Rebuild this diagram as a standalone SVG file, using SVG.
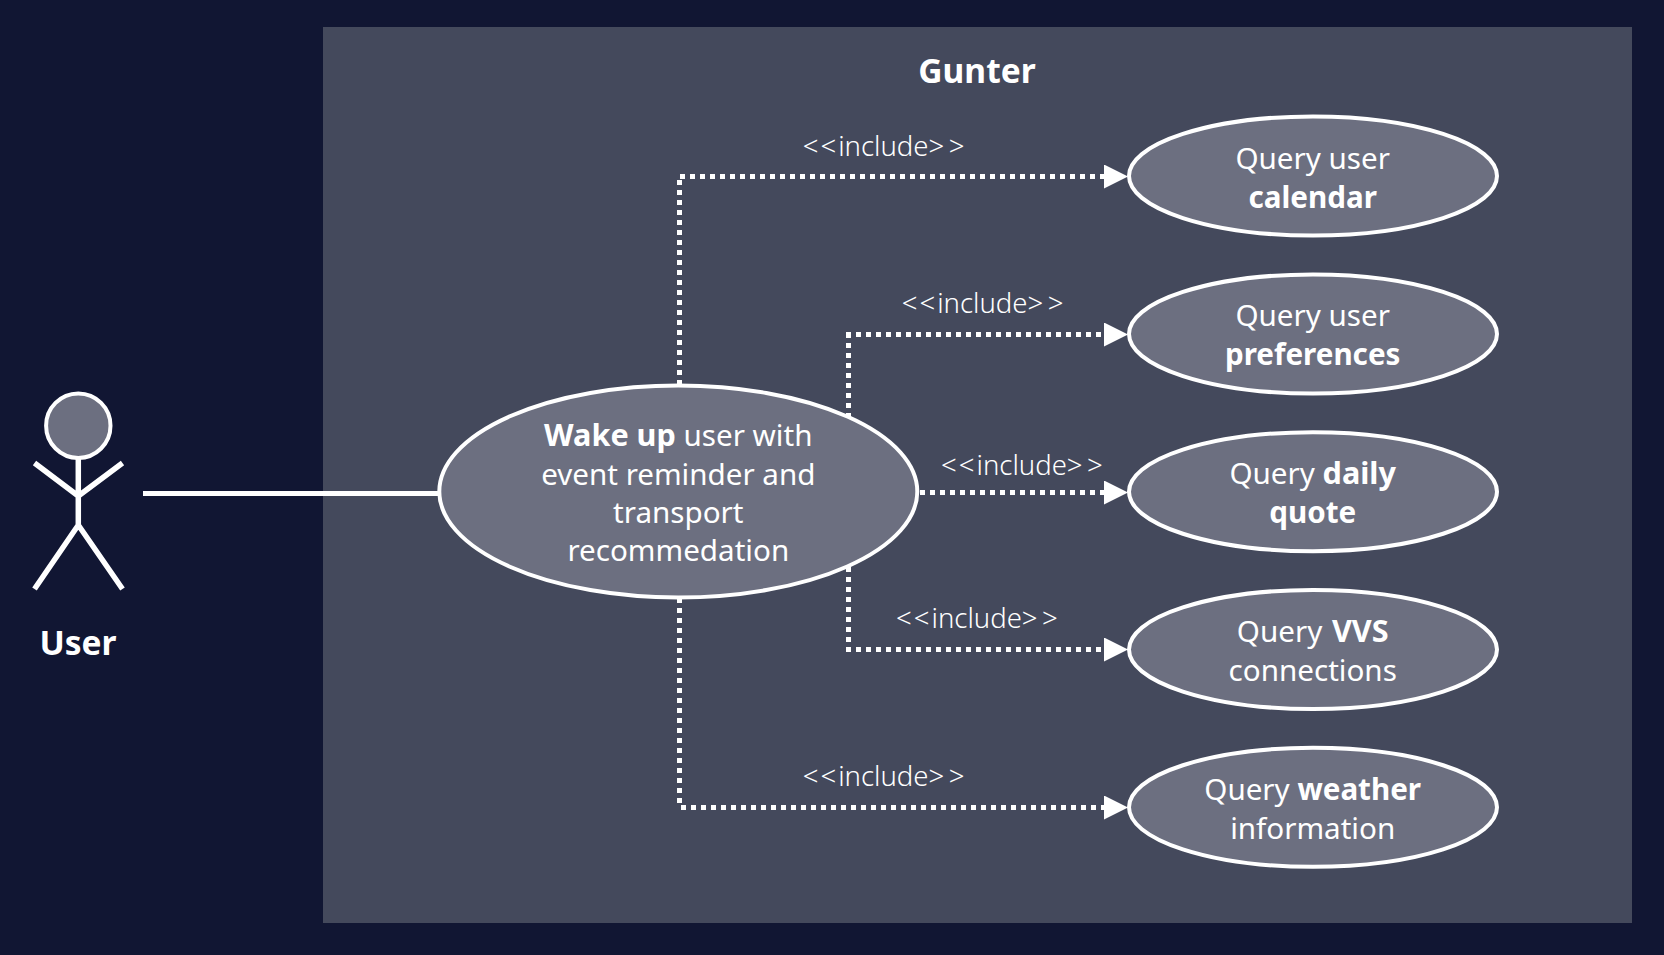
<svg xmlns="http://www.w3.org/2000/svg" width="1664" height="955" viewBox="0 0 1664 955">
<style>
text{font-family:"Noto Sans","Open Sans","Liberation Sans",sans-serif;fill:#fff;text-anchor:middle}
.uc{font-size:29.6px}
.inc{font-size:27.5px;font-weight:300}
.gl{letter-spacing:2px}
.gr{letter-spacing:4.5px}
.title{font-size:33.5px;font-weight:700}
.b{font-weight:700}
.bi{font-weight:700;font-size:30.6px}
.node{fill:#6c6f80;stroke:#fff;stroke-width:4}
.dep{fill:none;stroke:#fff;stroke-width:5;stroke-dasharray:5 5;marker-end:url(#arrow)}
.limb{fill:none;stroke:#fff;stroke-width:5.5}
</style>
<defs>
<marker id="arrow" markerUnits="userSpaceOnUse" markerWidth="24" markerHeight="24" refX="0" refY="12" orient="auto"><path d="M0 0L24 12L0 24Z" fill="#fff"/></marker>
</defs>
<rect width="1664" height="955" fill="#111633"/>
<rect id="boundary" x="323" y="27" width="1309" height="896" fill="#44495c"/>
<text class="title" x="977" y="83">Gunter</text>
<g id="connectors">
<path d="M143 493.5H438" fill="none" stroke="#fff" stroke-width="5"/>
<path class="dep" d="M679.5 385V176.5M680 176.5H1104"/>
<path class="dep" d="M848.5 418V334.5M846 334.5H1104"/>
<path class="dep" d="M920 492.5H1104"/>
<path class="dep" d="M848.5 567V650M846 649.5H1104"/>
<path class="dep" d="M679.5 598V807.5M681 807.5H1104"/>
<text class="inc" x="885.8" y="156"><tspan class="gl">&lt;&lt;</tspan>include<tspan class="gr">&gt;&gt;</tspan></text>
<text class="inc" x="984.8" y="313.3"><tspan class="gl">&lt;&lt;</tspan>include<tspan class="gr">&gt;&gt;</tspan></text>
<text class="inc" x="1024.2" y="475.3"><tspan class="gl">&lt;&lt;</tspan>include<tspan class="gr">&gt;&gt;</tspan></text>
<text class="inc" x="979.2" y="628.3"><tspan class="gl">&lt;&lt;</tspan>include<tspan class="gr">&gt;&gt;</tspan></text>
<text class="inc" x="885.8" y="786"><tspan class="gl">&lt;&lt;</tspan>include<tspan class="gr">&gt;&gt;</tspan></text>
</g>
<g id="actor-user">
<circle class="node" cx="78.3" cy="425.7" r="32.2"/>
<path class="limb" d="M78.3 458V525M34.5 463L78.3 496L122.5 463M34.5 589L78.3 525L122.5 589"/>
<text class="title" x="78" y="655">User</text>
</g>
<g id="uc-wake">
<ellipse class="node" cx="678.3" cy="491.5" rx="239" ry="106"/>
<text class="uc" x="678.3" y="446"><tspan class="bi">Wake up</tspan> user with</text>
<text class="uc" x="678.3" y="485">event reminder and</text>
<text class="uc" x="678.3" y="522.7">transport</text>
<text class="uc" x="678.3" y="560.7">recommedation</text>
</g>
<g id="uc-calendar">
<ellipse class="node" cx="1313" cy="176" rx="184" ry="59.5"/>
<text class="uc" x="1312.7" y="168.5">Query user</text>
<text class="uc b" x="1312.7" y="208.3">calendar</text>
</g>
<g id="uc-preferences">
<ellipse class="node" cx="1313" cy="334" rx="184" ry="59.5"/>
<text class="uc" x="1312.7" y="326">Query user</text>
<text class="uc b" x="1312.7" y="364.8">preferences</text>
</g>
<g id="uc-quote">
<ellipse class="node" cx="1313" cy="491.7" rx="184" ry="59.5"/>
<text class="uc" x="1312.7" y="484.3">Query <tspan class="bi">daily</tspan></text>
<text class="uc b" x="1312.7" y="522.7">quote</text>
</g>
<g id="uc-vvs">
<ellipse class="node" cx="1313" cy="649.5" rx="184" ry="59.5"/>
<text class="uc" x="1312.7" y="642" word-spacing="2">Query <tspan class="bi">VVS</tspan></text>
<text class="uc" x="1312.7" y="681">connections</text>
</g>
<g id="uc-weather">
<ellipse class="node" cx="1313" cy="807.3" rx="184" ry="59.5"/>
<text class="uc" x="1312.7" y="800.3">Query <tspan class="b">weather</tspan></text>
<text class="uc" x="1312.7" y="839.3">information</text>
</g>
</svg>
